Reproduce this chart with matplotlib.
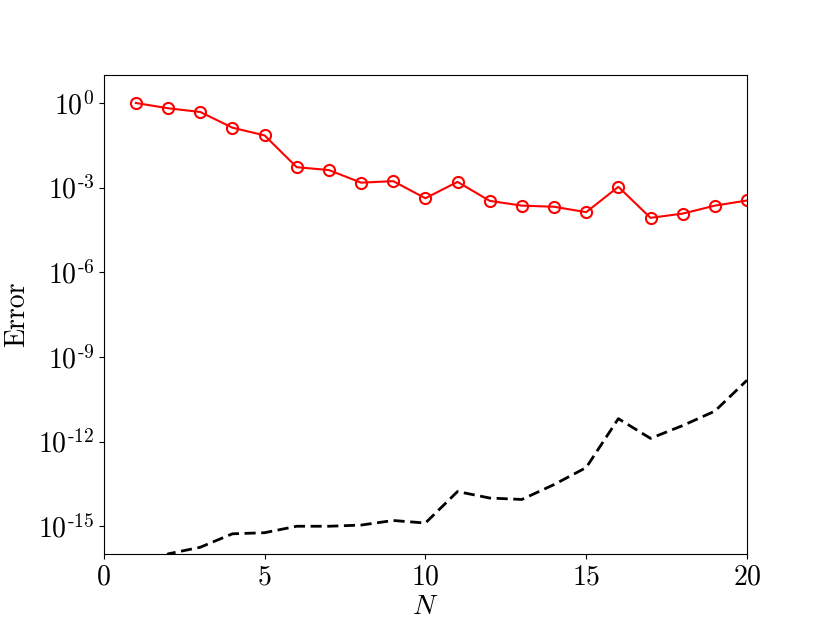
import numpy as np
import matplotlib
matplotlib.use('Agg')
import matplotlib.pyplot as plt
from matplotlib.ticker import FuncFormatter

# Data
N = [1, 2, 3, 4, 5, 6, 7, 8, 9, 10, 11, 12, 13, 14, 15, 16, 17, 18, 19, 20]
err_red = [1.0, 0.65, 0.48, 0.133, 0.071, 5.3e-3, 4.2e-3, 1.5e-3, 1.7e-3, 4.2e-4,
           1.6e-3, 3.4e-4, 2.3e-4, 2.1e-4, 1.35e-4, 1.07e-3, 8.5e-5, 1.2e-4, 2.3e-4, 3.5e-4]
err_black = [0.0, 1.05e-16, 1.8e-16, 5.4e-16, 5.9e-16, 1.0e-15, 1.0e-15, 1.1e-15, 1.6e-15, 1.3e-15,
             1.7e-14, 1.0e-14, 8.9e-15, 3.0e-14, 1.2e-13, 6.5e-12, 1.3e-12, 3.7e-12, 1.2e-11, 1.5e-10]
y_ticks = [1e0, 1e-3, 1e-6, 1e-9, 1e-12, 1e-15]

plt.rcParams['font.family'] = 'serif'
plt.rcParams['font.serif'] = ['cmr10']
plt.rcParams['mathtext.fontset'] = 'cm'
plt.rcParams['axes.formatter.use_mathtext'] = True
plt.rcParams['axes.unicode_minus'] = False


def log_label(v, pos):
    e = int(round(np.log10(v)))
    if e < 0:
        return r'$10^{\text{-}%d}$' % (-e)
    return r'$10^{%d}$' % e


fig, ax = plt.subplots(figsize=(8.3, 6.23), dpi=100)

ax.plot(N, err_red, '-o', color='red', linewidth=1.5, markersize=8,
        markerfacecolor='none', markeredgewidth=1.5)
ax.plot(N, err_black, '--', color='black', linewidth=2, dashes=(4, 2))

ax.set_yscale('log')
ax.set_xlim(0, 20)
ax.set_ylim(1e-16, 1e1)
ax.set_yticks(y_ticks)
ax.minorticks_off()
ax.yaxis.set_major_formatter(FuncFormatter(log_label))
ax.set_xticks([0, 5, 10, 15, 20])
ax.tick_params(labelsize=20)

ax.set_xlabel('$N$', fontsize=20, labelpad=2)
ax.set_ylabel('Error', fontsize=20, labelpad=6)

plt.savefig('out.png', dpi=100)
